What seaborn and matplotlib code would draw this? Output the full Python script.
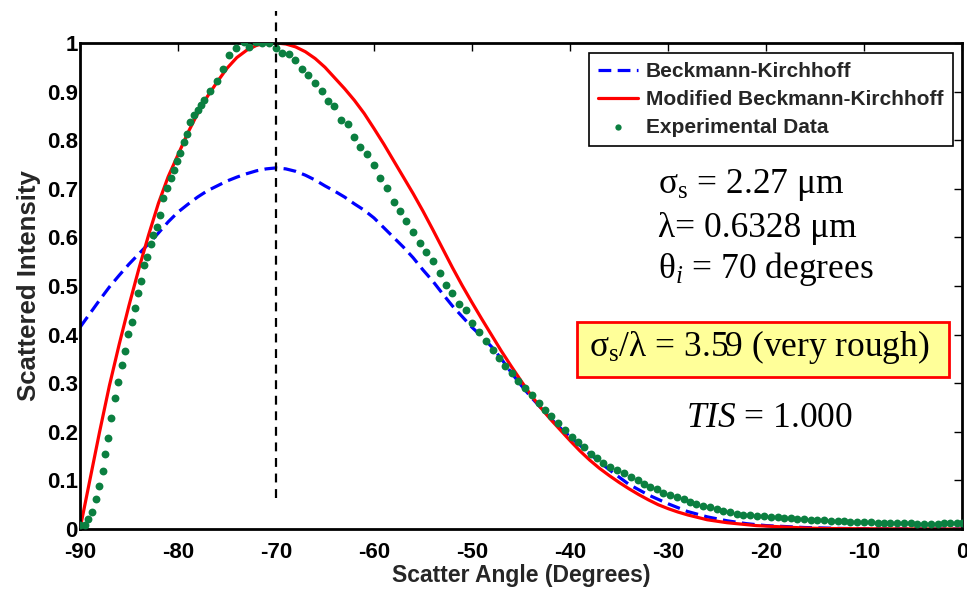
import numpy as np
import pandas as pd
import matplotlib
matplotlib.use("Agg")
import matplotlib.pyplot as plt
from matplotlib.patches import Rectangle
import seaborn as sns

# ---------------- data ----------------
bk_angle = [-90, -89, -88, -87, -86, -85, -84, -83, -82, -81, -80, -79, -78, -77, -76, -75,
            -74, -73, -72, -71, -70, -69, -68, -67, -66, -65, -64, -63, -62, -61, -60, -59,
            -58, -57, -56, -55, -54, -53, -52, -51, -50, -49, -48, -47, -46, -45, -44, -43,
            -42, -41, -40, -38, -36, -34, -32, -30, -28, -26, -24, -22, -20, -18, -16, -14,
            -12, -10, -5, 0]
bk_int = [0.415, 0.443, 0.471, 0.498, 0.522, 0.545, 0.566, 0.587, 0.609, 0.632, 0.652, 0.668,
          0.683, 0.696, 0.706, 0.716, 0.724, 0.731, 0.737, 0.741, 0.743, 0.741, 0.736, 0.728,
          0.718, 0.706, 0.695, 0.683, 0.669, 0.656, 0.640, 0.620, 0.600, 0.580, 0.558, 0.533,
          0.510, 0.484, 0.459, 0.437, 0.415, 0.396, 0.375, 0.350, 0.322, 0.296, 0.272, 0.250,
          0.228, 0.208, 0.190, 0.155, 0.122, 0.092, 0.070, 0.052, 0.036, 0.025, 0.017, 0.011,
          0.007, 0.005, 0.003, 0.002, 0.001, 0.0005, 0.0002, 0.0]

mbk_angle = [-90, -89, -88, -87, -86, -85, -84, -83, -82, -81, -80, -79, -78, -77, -76, -75,
             -74, -73, -72, -71, -70, -69, -68, -67, -66, -65, -64, -63, -62, -61, -60, -59,
             -58, -57, -56, -55, -54, -53, -52, -51, -50, -49, -48, -47, -46, -45, -44, -43,
             -42, -41, -40, -39, -38, -37, -36, -35, -34, -33, -32, -31, -30, -29, -28, -27,
             -26, -25, -24, -23, -22, -21, -20, -18, -16, -14, -10, -5, 0]
mbk_int = [0.0, 0.100, 0.200, 0.295, 0.380, 0.460, 0.535, 0.605, 0.670, 0.725, 0.770, 0.815,
           0.855, 0.890, 0.920, 0.948, 0.970, 0.985, 0.995, 1.000, 1.000, 0.998, 0.992, 0.982,
           0.968, 0.950, 0.928, 0.906, 0.882, 0.855, 0.824, 0.792, 0.758, 0.724, 0.690, 0.654,
           0.616, 0.577, 0.538, 0.501, 0.466, 0.432, 0.399, 0.366, 0.335, 0.305, 0.276, 0.250,
           0.226, 0.204, 0.182, 0.161, 0.142, 0.125, 0.110, 0.096, 0.083, 0.071, 0.060, 0.050,
           0.042, 0.035, 0.029, 0.024, 0.019, 0.016, 0.013, 0.011, 0.009, 0.007, 0.006, 0.004,
           0.002, 0.001, 0.0005, 0.0002, 0.0]

exp_angle = [-90.0, -89.5, -89.15, -88.8, -88.4, -88.06, -87.7, -87.4, -87.1, -86.8, -86.4,
             -86.1, -85.7, -85.4, -85.1, -84.7, -84.4, -84.05, -83.8, -83.45, -83.2, -82.8,
             -82.5, -82.1, -81.8, -81.5, -81.1, -80.75, -80.45, -80.1, -79.8, -79.4, -79.1,
             -78.8, -78.4, -78.0, -77.65, -77.3, -76.7, -76.05, -75.4, -74.8, -74.1, -73.3,
             -72.75, -72.0, -71.4, -70.75, -70.05, -69.35, -68.7, -68.05, -67.35, -66.7,
             -66.05, -65.3, -64.7, -64.05, -63.4, -62.7, -62.0, -61.4, -60.7, -60.0, -59.4,
             -58.7, -58.0, -57.3, -56.7, -56.0, -55.3, -54.7, -54.0, -53.3, -52.65, -52.0,
             -51.3, -50.6, -50.0, -49.25, -48.6, -47.9, -47.2, -46.6, -45.95, -45.3, -44.6,
             -43.9, -43.2, -42.6, -41.9, -41.2, -40.5, -39.8, -39.2, -38.6, -37.9, -37.2,
             -36.6, -35.9, -35.2, -34.5, -33.8, -33.1, -32.4, -31.8, -31.1, -30.5, -29.8,
             -29.1, -28.4, -27.8, -27.1, -26.4, -25.7, -25.0, -24.4, -23.7, -23.0, -22.3,
             -21.6, -20.9, -20.2, -19.5, -18.8, -18.2, -17.5, -16.8, -16.1, -15.4, -14.8,
             -14.1, -13.4, -12.7, -12.0, -11.4, -10.7, -10.0, -9.3, -8.6, -8.0, -7.3, -6.6,
             -5.9, -5.2, -4.6, -3.9, -3.2, -2.5, -1.8, -1.2, -0.5, 0.0]
exp_int = [0.008, 0.008, 0.020, 0.034, 0.061, 0.089, 0.119, 0.154, 0.188, 0.228, 0.269,
           0.303, 0.337, 0.366, 0.402, 0.425, 0.454, 0.485, 0.510, 0.543, 0.560, 0.586,
           0.604, 0.622, 0.646, 0.681, 0.701, 0.722, 0.739, 0.757, 0.773, 0.796, 0.812,
           0.838, 0.852, 0.862, 0.872, 0.883, 0.902, 0.922, 0.947, 0.976, 0.990, 1.002,
           0.992, 1.002, 1.001, 1.001, 0.989, 0.979, 0.977, 0.965, 0.947, 0.935,
           0.918, 0.901, 0.881, 0.870, 0.842, 0.833, 0.807, 0.787, 0.772, 0.748, 0.722,
           0.701, 0.673, 0.654, 0.634, 0.612, 0.588, 0.569, 0.552, 0.526, 0.502, 0.485,
           0.463, 0.451, 0.424, 0.406, 0.387, 0.368, 0.352, 0.335, 0.320, 0.305, 0.290,
           0.275, 0.259, 0.245, 0.232, 0.218, 0.204, 0.189, 0.180, 0.168, 0.154, 0.147,
           0.136, 0.128, 0.121, 0.115, 0.108, 0.101, 0.093, 0.087, 0.082, 0.075, 0.070,
           0.065, 0.061, 0.056, 0.051, 0.048, 0.045, 0.041, 0.037, 0.034, 0.031, 0.029,
           0.029, 0.027, 0.026, 0.025, 0.024, 0.023, 0.022, 0.021, 0.020, 0.019, 0.018,
           0.018, 0.017, 0.016, 0.016, 0.015, 0.015, 0.014, 0.014, 0.013, 0.013, 0.013,
           0.012, 0.012, 0.012, 0.011, 0.011, 0.011, 0.011, 0.012, 0.012, 0.013, 0.013]

x_ticks = [-90, -80, -70, -60, -50, -40, -30, -20, -10, 0]
x_tick_labels = ["-90", "-80", "-70", "-60", "-50", "-40", "-30", "-20", "-10", "0"]
y_ticks = [0, 0.1, 0.2, 0.3, 0.4, 0.5, 0.6, 0.7, 0.8, 0.9, 1.0]
y_tick_labels = ["0", "0.1", "0.2", "0.3", "0.4", "0.5", "0.6", "0.7", "0.8", "0.9", "1"]
specular_angle = -70

# ---------------- style ----------------
sns.set_style("white")
plt.rcParams["font.family"] = ["Liberation Sans", "DejaVu Sans"]
plt.rcParams["mathtext.fontset"] = "custom"
plt.rcParams["mathtext.rm"] = "Liberation Serif"
plt.rcParams["mathtext.it"] = "Liberation Serif:italic"
plt.rcParams["mathtext.bf"] = "Liberation Serif:bold"

W, H = 967, 589
fig = plt.figure(figsize=(W / 100, H / 100), dpi=100)
L, R, T, B = 80, 962, 43, 529
ax = fig.add_axes([L / W, 1 - B / H, (R - L) / W, (B - T) / H])

df_bk = pd.DataFrame({"angle": bk_angle, "intensity": bk_int})
df_mbk = pd.DataFrame({"angle": mbk_angle, "intensity": mbk_int})
df_exp = pd.DataFrame({"angle": exp_angle, "intensity": exp_int})

sns.lineplot(data=df_bk, x="angle", y="intensity", ax=ax, color="#0000FF",
             linewidth=2.3, linestyle=(0, (4, 2)), label="Beckmann-Kirchhoff", sort=False)
sns.lineplot(data=df_mbk, x="angle", y="intensity", ax=ax, color="#FF0000",
             linewidth=2.3, label="Modified Beckmann-Kirchhoff", sort=False)
sns.scatterplot(data=df_exp, x="angle", y="intensity", ax=ax, color="#0B7F40",
                s=32, linewidth=0, label="Experimental Data", zorder=3)

ax.plot([specular_angle, specular_angle], [0.064, 1.066], color="black",
        linewidth=1.6, linestyle=(0, (4, 3)), clip_on=False, zorder=4)

ax.set_xlim(-90, 0)
ax.set_ylim(0, 1)
ax.set_xticks(x_ticks)
ax.set_xticklabels(x_tick_labels)
ax.set_yticks(y_ticks)
ax.set_yticklabels(y_tick_labels)
ax.tick_params(direction="in", length=6, width=1, top=True, right=True,
               labelsize=16, colors="black")
ax.tick_params(axis="x", pad=9)
ax.tick_params(axis="y", pad=1.5)
for t in ax.get_xticklabels() + ax.get_yticklabels():
    t.set_fontweight("bold")
for sp in ax.spines.values():
    sp.set_visible(True)
    sp.set_color("black")
    sp.set_linewidth(2)

ax.set_xlabel("Scatter Angle (Degrees)", fontsize=16.5, fontweight="bold", labelpad=1)
ax.set_ylabel("Scattered Intensity", fontsize=18.5, fontweight="bold", labelpad=4)

leg = ax.legend(loc="upper right", bbox_to_anchor=(953 / W, 1 - 53 / H),
                bbox_transform=fig.transFigure, borderaxespad=0, frameon=True,
                fancybox=False, framealpha=1, edgecolor="black", handlelength=1.9,
                handletextpad=0.4, labelspacing=0.42, borderpad=0.45,
                prop={"weight": "bold", "size": 15}, markerscale=0.8)
leg.get_frame().set_linewidth(1.2)

# ---------------- annotations ----------------
def fx(px):
    return px / W

def fy(py):
    return 1 - py / H

tkw = dict(fontsize=25.5, family="Liberation Serif", color="black", va="baseline", ha="left")
fig.text(fx(658), fy(193), r"σ$_\mathrm{s}$ = 2.27 μm", **tkw)
fig.text(fx(658), fy(237), "λ= 0.6328 μm", **tkw)
fig.text(fx(658), fy(278), r"θ$_i$ = 70 degrees", **tkw)

rect = Rectangle((fx(577), fy(377)), (949 - 577) / W, (377 - 322) / H,
                 transform=fig.transFigure, facecolor="#FFFF99", edgecolor="#FF0000",
                 linewidth=2, zorder=5)
fig.add_artist(rect)
t_box = fig.text(fx(589), fy(356), r"σ$_\mathrm{s}$/λ = 3.59 (very rough)", **tkw)
t_box.set_zorder(6)
fig.text(fx(686), fy(427), r"$TIS$ = 1.000", **tkw)

fig.savefig("out.png", dpi=100)
